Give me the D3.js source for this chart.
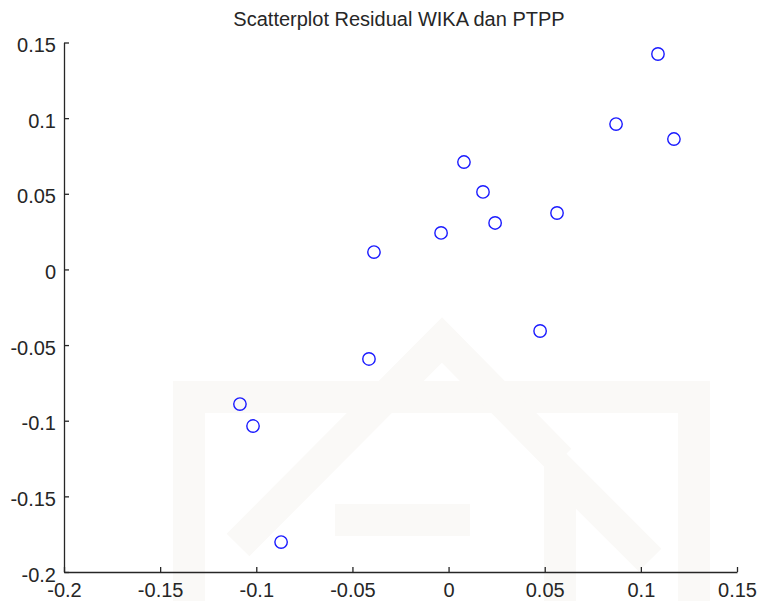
<!DOCTYPE html>
<html lang="en">
  <head>
    <meta charset="UTF-8" />
    <title>Scatterplot Residual WIKA dan PTPP</title>
    <script src="https://d3js.org/d3.v7.min.js"></script>
    <style>
      body {
        margin: 0;
        background: #fff;
        font-family: "Liberation Sans", Arial, sans-serif;
      }
    </style>
  </head>
  <body>
    <svg id="chart" width="758" height="601"></svg>
    <script>
      // Residuals
      const residWIKA = [0.1089, 0.0871, 0.1172, 0.008, 0.0179, 0.0564, 0.0242, -0.0039, -0.0388, 0.0476, -0.0414, -0.1085, -0.1017, -0.0871];
      const residPTPP = [0.1424, 0.0961, 0.0862, 0.071, 0.0512, 0.0373, 0.0307, 0.0241, 0.0115, -0.0407, -0.0592, -0.089, -0.1035, -0.1802];

      const xTicks = [-0.2, -0.15, -0.1, -0.05, 0, 0.05, 0.1, 0.15];
      const yTicks = [-0.2, -0.15, -0.1, -0.05, 0, 0.05, 0.1, 0.15];

      const points = residWIKA.map((v, i) => ({ x: v, y: residPTPP[i] }));

      const svg = d3.select("#chart");

      const x = d3.scaleLinear().domain([-0.2, 0.15]).range([64, 737]);
      const y = d3.scaleLinear().domain([-0.2, 0.15]).range([572, 42.5]);

      // very faint watermark in the background
      const wm = svg.append("g").attr("fill", "none").attr("stroke", "#faf9f7").attr("stroke-width", 32);
      wm.append("path").attr("d", "M189,601 V397 H694 V601");
      wm.append("path").attr("d", "M238,545 L442,340 L560,460");
      wm.append("path").attr("d", "M335,520 H470");
      wm.append("path").attr("d", "M560,601 V470 L650,560");

      // title
      svg.append("text")
        .attr("x", 399)
        .attr("y", 26)
        .attr("text-anchor", "middle")
        .attr("font-size", 20)
        .attr("fill", "#262626")
        .text("Scatterplot Residual WIKA dan PTPP");

      // axes
      const fmt = (d) => String(d);

      const xAxis = svg.append("g")
        .attr("transform", "translate(0,572)")
        .call(d3.axisBottom(x).tickValues(xTicks).tickFormat(fmt).tickSizeInner(-5).tickSizeOuter(0).tickPadding(11));

      const yAxis = svg.append("g")
        .attr("transform", "translate(64,0)")
        .call(d3.axisLeft(y).tickValues(yTicks).tickFormat(fmt).tickSizeInner(-5).tickSizeOuter(0).tickPadding(8));

      yAxis.selectAll(".tick text").attr("dy", "0.46em");

      [xAxis, yAxis].forEach((g) => {
        g.select(".domain").attr("stroke", "#262626").attr("stroke-width", 1.3);
        g.selectAll(".tick line").attr("stroke", "#262626").attr("stroke-width", 1.3);
        g.selectAll(".tick text")
          .attr("fill", "#262626")
          .attr("font-size", 20)
          .attr("font-family", "'Liberation Sans', Arial, sans-serif");
      });

      // markers
      svg.append("g")
        .selectAll("circle")
        .data(points)
        .join("circle")
        .attr("cx", (d) => x(d.x))
        .attr("cy", (d) => y(d.y))
        .attr("r", 6.2)
        .attr("fill", "none")
        .attr("stroke", "#1a1aff")
        .attr("stroke-width", 1.4);
    </script>
  </body>
</html>
